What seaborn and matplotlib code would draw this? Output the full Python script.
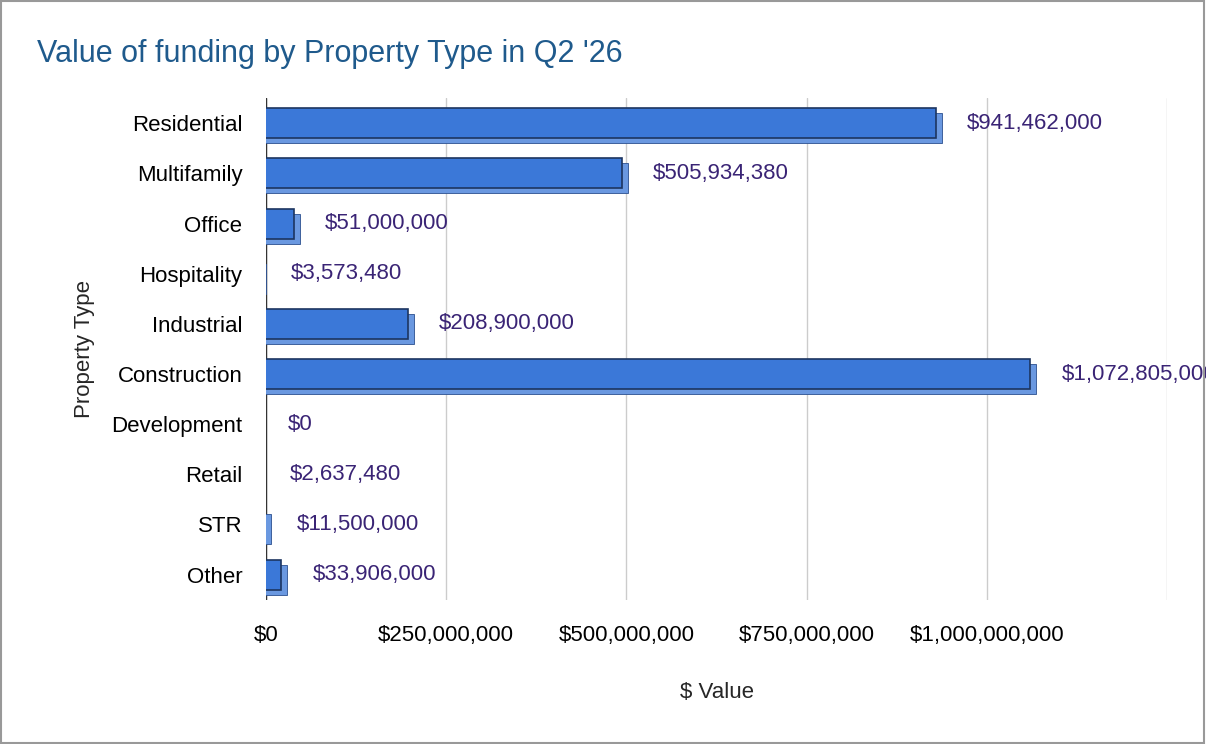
import matplotlib
matplotlib.use("Agg")
import matplotlib.pyplot as plt
import matplotlib.transforms as mtransforms
from matplotlib.ticker import FuncFormatter
from matplotlib.patches import Rectangle
import seaborn as sns
import pandas as pd

categories = ["Residential", "Multifamily", "Office", "Hospitality", "Industrial",
              "Construction", "Development", "Retail", "STR", "Other"]
values = [941462000, 505934380, 51000000, 3573480, 208900000,
          1072805000, 0, 2637480, 11500000, 33906000]

df = pd.DataFrame({"type": categories, "value": values})

sns.set_style("white")
plt.rcParams["font.family"] = ["Liberation Sans", "DejaVu Sans"]

fig = plt.figure(figsize=(12.06, 7.44), dpi=100)
ax = fig.add_axes([0.2206, 0.194, 0.7471, 0.674])

# seaborn draws the shadow (back) bars
sns.barplot(data=df, x="value", y="type", color="#6a98e0", width=0.6,
            saturation=1, ax=ax, zorder=2, edgecolor="#2b4f8f", linewidth=0.6)
shadow = mtransforms.offset_copy(ax.transData, fig=fig, x=-3, y=-5, units="dots")
for p in list(ax.patches):
    p.set_transform(shadow)
    if p.get_width() < 2e6:
        p.set_width(2e6)

# front faces shifted left/up for a 3D look
face = mtransforms.offset_copy(ax.transData, fig=fig, x=-9, y=0, units="dots")
for i, v in enumerate(values):
    ax.add_patch(Rectangle((0, i - 0.3), max(v, 2e6), 0.6, transform=face,
                           facecolor="#3b78d8", edgecolor="#1c3560", lw=1.2, zorder=3))

for i, v in enumerate(values):
    ax.annotate(f"${v:,}", (v, i), xytext=(16, 0), textcoords="offset points",
                va="center", ha="left", fontsize=16, color="#3a2475",
                annotation_clip=False)

ax.set_xlim(0, 1.25e9)
ax.set_ylim(9.5, -0.5)
ax.set_xticks([0, 2.5e8, 5e8, 7.5e8, 1e9, 1.25e9])
ax.xaxis.set_major_formatter(FuncFormatter(lambda x, p: "" if x > 1.1e9 else f"${int(x):,}"))
ax.grid(axis="x", color="#cccccc", lw=1, zorder=0)
ax.axvline(0, color="#333333", lw=1, zorder=1)
for s in ax.spines.values():
    s.set_visible(False)
ax.tick_params(axis="both", length=0, labelsize=16, colors="black")
ax.tick_params(axis="x", pad=18)
ax.tick_params(axis="y", pad=17)
ax.set_xlabel("$ Value", fontsize=16, labelpad=26)
ax.set_ylabel("Property Type", fontsize=16, labelpad=12)

fig.text(0.031, 0.927, "Value of funding by Property Type in Q2 '26",
         fontsize=22, color="#1f5a8c", ha="left", va="center")
fig.add_artist(Rectangle((0.001, 0.002), 0.997, 0.996, transform=fig.transFigure,
                         fill=False, edgecolor="#999999", lw=1.5))

fig.savefig("out.png", dpi=100)
